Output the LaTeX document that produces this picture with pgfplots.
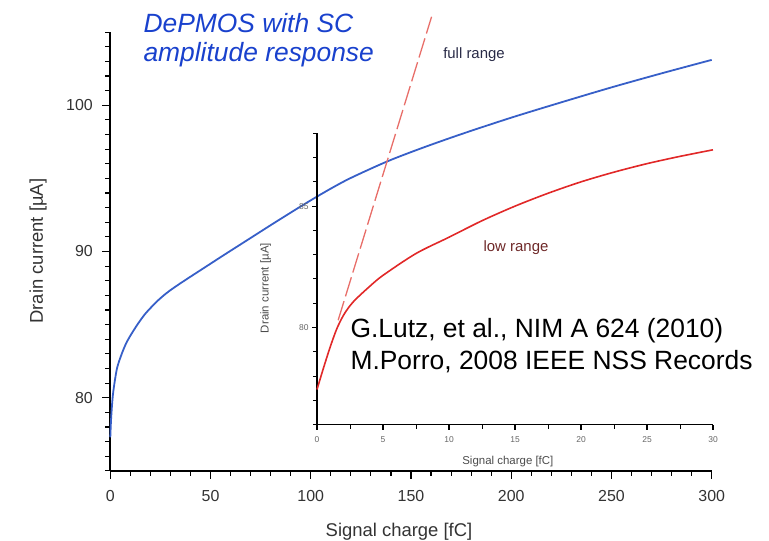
\documentclass[border=0pt]{standalone}
\usepackage{fontspec}
\setmainfont{Liberation Sans}
\usepackage{pgfplots}
\pgfplotsset{compat=1.18}
\definecolor{cblue}{RGB}{55,95,200}
\definecolor{cred}{RGB}{225,40,40}
\definecolor{cdash}{RGB}{232,110,105}
\definecolor{ctitle}{RGB}{25,65,205}
\definecolor{cfull}{RGB}{40,42,70}
\definecolor{clow}{RGB}{110,40,40}
\begin{document}
\begin{tikzpicture}
\path[use as bounding box] (0,0) rectangle (769bp,541bp);
% main axis
\begin{axis}[
  at={(110.3bp,70.1bp)}, anchor=south west,
  scale only axis, width=601.4bp, height=438.8bp,
  xmin=0, xmax=300, ymin=75, ymax=105,
  axis lines=left, axis line style={-, line width=1.6bp, black},
  xtick={0,50,...,300}, minor xtick={0,10,...,300},
  ytick={80,90,100}, minor ytick={75,76,...,105},
  tick align=outside, major tick length=8bp, minor tick length=5bp,
  major tick style={black, line width=1.3bp},
  minor tick style={black, line width=1.1bp},
  /pgf/number format/assume math mode=true,
  ticklabel style={font=\fontsize{16}{16}\selectfont, text=black!80},
  xticklabel style={yshift=-8bp},
  yticklabel style={xshift=-6bp},
  xlabel={Signal charge [fC]},
  ylabel={Drain current [µA]},
  xlabel style={font=\fontsize{18.5}{18.5}\selectfont, text=black!80, at={(axis description cs:0.48,-0.139)}, anchor=center},
  ylabel style={font=\fontsize{18.5}{18.5}\selectfont, text=black!80, at={(axis description cs:-0.120,0.501)}, anchor=center},
  clip=false,
]
\addplot[cblue, line width=1.8bp, smooth] coordinates {
(0,77.3) (0.3,78.3) (0.7,79.2) (1.3,80.2) (2.3,81.2) (3.5,82.1) (5.7,83.0) (8,83.75)
(10.7,84.4) (14,85.1) (17.3,85.72) (20.5,86.2) (24,86.68) (28,87.15) (32,87.55)
(38,88.1) (47,88.9) (56,89.7) (64,90.4) (72,91.1) (80,91.8) (90,92.66) (100,93.5)
(110,94.3) (120,95.03) (138,96.15) (155,97.05) (175,98.02) (200,99.15) (225,100.2)
(250,101.22) (275,102.18) (300,103.1)
};
\end{axis}
% inset axis
\begin{axis}[
  at={(317bp,116.3bp)}, anchor=south west,
  scale only axis, width=396bp, height=291.4bp,
  xmin=0, xmax=30, ymin=76, ymax=88,
  axis lines=left, axis line style={-, line width=1.5bp, black},
  xtick={0,5,...,30}, minor xtick={0,2.5,...,30},
  ytick={80,85}, minor ytick={76,77,...,88},
  tick align=outside, major tick length=5bp, minor tick length=4bp,
  major tick style={black, line width=1.1bp},
  minor tick style={black, line width=1bp},
  /pgf/number format/assume math mode=true,
  ticklabel style={font=\fontsize{8.5}{8.5}\selectfont, text=black!60},
  xticklabel style={yshift=-3bp},
  xlabel={Signal charge [fC]},
  ylabel={Drain current [µA]},
  xlabel style={font=\fontsize{11.5}{11.5}\selectfont, text=black!70, at={(axis description cs:0.482,-0.128)}, anchor=center},
  ylabel style={font=\fontsize{11.5}{11.5}\selectfont, text=black!70, at={(axis description cs:-0.1295,0.469)}, anchor=center},
  clip=false,
]
\addplot[cred, line width=1.6bp, smooth] coordinates {
(0,77.45) (0.5,78.35) (1.0,79.2) (1.5,79.95) (2.0,80.5) (2.5,80.9) (3,81.2) (4,81.7)
(5,82.15) (7.5,83.05) (10,83.72) (12.5,84.4) (15,85.0) (17.5,85.53) (20,86.0)
(22.5,86.4) (25,86.75) (27.5,87.05) (30,87.32)
};
\addplot[cdash, line width=1.3bp, dash pattern=on 20bp off 5bp] coordinates {
(1.6,80.3) (8.68,92.8)
};
\end{axis}
% annotations
\node[anchor=west, text=ctitle, font=\fontsize{26.5}{26.5}\selectfont\itshape] at (140bp,518bp) {DePMOS with SC};
\node[anchor=west, text=ctitle, font=\fontsize{26.5}{26.5}\selectfont\itshape] at (140bp,486bp) {amplitude response};
\node[text=cfull, font=\fontsize{15}{15}\selectfont] at (474bp,486bp) {full range};
\node[text=clow, font=\fontsize{15}{15}\selectfont] at (516bp,293bp) {low range};
\node[anchor=west, text=black, font=\fontsize{26.5}{26.5}\selectfont] at (347bp,210bp) {G.Lutz, et al., NIM A 624 (2010)};
\node[anchor=west, text=black, font=\fontsize{26.5}{26.5}\selectfont] at (347bp,179bp) {M.Porro, 2008 IEEE NSS Records};
\end{tikzpicture}
\end{document}
